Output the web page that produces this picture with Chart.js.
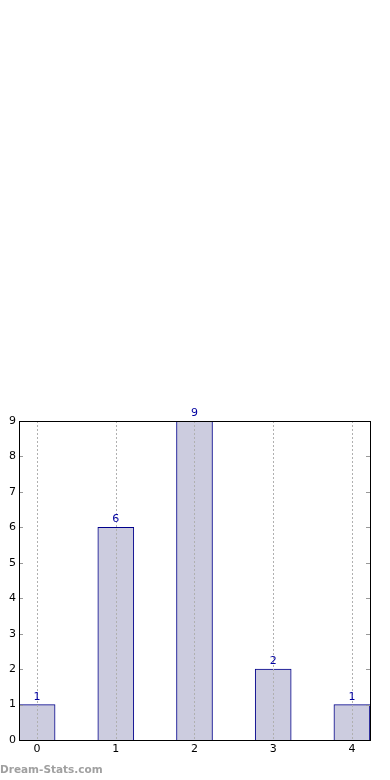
<!DOCTYPE html>
<html>
<head>
<meta charset="utf-8">
<script src="https://cdn.jsdelivr.net/npm/chart.js@4"></script>
<style>
	html, body {margin: 0; padding: 0; background: #fff;}
	#wrap {position: relative; width: 390px; height: 780px;}
	#mark {position: absolute; left: 0; top: 763px; font: bold 10.5px "DejaVu Sans", sans-serif; color: #a0a0a0;}
</style>
</head>
<body>
<div id="wrap">
	<canvas id="myChart" width="390" height="780"></canvas>
	<div id="mark">Dream-Stats.com</div>
</div>
<script>
'use strict';

const categories = [0, 1, 2, 3, 4];
const counts = [1, 6, 9, 2, 1];
const yTicks = [0, 1, 2, 3, 4, 5, 6, 7, 8, 9];

// matplotlib-like frame: dotted x grid over the bars, inward ticks, box, value labels
const frame = {
	id: 'frame',
	afterDatasetsDraw(chart) {
		const {ctx, chartArea: a, scales} = chart;
		ctx.save();
		ctx.lineWidth = 1;
		ctx.strokeStyle = '#b0b0b0';
		ctx.setLineDash([2, 2]);
		ctx.beginPath();
		categories.forEach(c => {
			const x = Math.round(scales.x.getPixelForValue(c)) + 0.5;
			ctx.moveTo(x, a.top); ctx.lineTo(x, a.bottom);
		});
		ctx.stroke();
		ctx.setLineDash([]);
		ctx.strokeStyle = '#999';
		ctx.beginPath();
		yTicks.forEach(t => {
			const y = Math.round(scales.y.getPixelForValue(t)) + 0.5;
			ctx.moveTo(a.left, y); ctx.lineTo(a.left + 4, y);
			ctx.moveTo(a.right, y); ctx.lineTo(a.right - 4, y);
		});
		ctx.stroke();
		ctx.strokeStyle = '#000';
		ctx.strokeRect(Math.round(a.left) + 0.5, Math.round(a.top) + 0.5, Math.round(a.right - a.left), Math.round(a.bottom - a.top));
		ctx.fillStyle = '#0000a0';
		ctx.font = '11px "DejaVu Sans", sans-serif';
		ctx.textAlign = 'center';
		ctx.textBaseline = 'alphabetic';
		chart.getDatasetMeta(0).data.forEach((bar, i) => {
			ctx.fillText(counts[i], bar.x, bar.y - 5);
		});
		ctx.restore();
	}
};

const ctx = document.getElementById('myChart').getContext('2d');
const myChart = new Chart(ctx, {
	type: 'bar',
	data: {
		datasets: [{
			data: categories.map((c, i) => ({x: c, y: counts[i]})),
			backgroundColor: '#ccccdf',
			borderColor: '#00008b',
			borderWidth: 1,
			barThickness: 36,
		}],
	},
	options: {
		responsive: false,
		animation: false,
		layout: {padding: {top: 421, right: 20, left: 0, bottom: 0}},
		plugins: {legend: {display: false}, tooltip: {enabled: false}},
		scales: {
			x: {
				type: 'linear',
				offset: false,
				min: -0.23,
				max: 4.23,
				afterBuildTicks: scale => {scale.ticks = categories.map(v => ({value: v}));},
				afterFit: scale => {scale.height = 40;},
				grid: {display: false, drawTicks: false, tickLength: 0},
				border: {display: false},
				ticks: {color: '#000', padding: 3, font: {family: 'DejaVu Sans', size: 11}},
			},
			y: {
				min: 0,
				max: 9,
				afterBuildTicks: scale => {scale.ticks = yTicks.map(v => ({value: v}));},
				afterFit: scale => {scale.width = 19;},
				grid: {display: false, drawTicks: false, tickLength: 0},
				border: {display: false},
				ticks: {color: '#000', padding: 3, font: {family: 'DejaVu Sans', size: 11}},
			},
		},
	},
	plugins: [frame],
});
</script>
</body>
</html>
